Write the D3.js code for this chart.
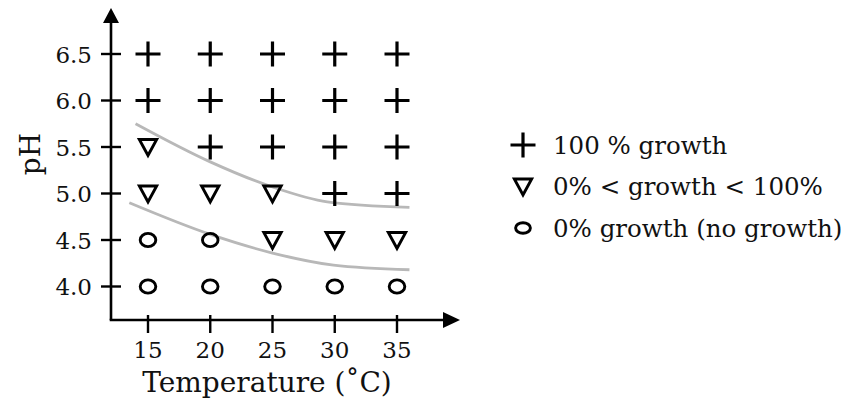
<!DOCTYPE html>
<html>
<head>
<meta charset="utf-8">
<script src="https://cdn.jsdelivr.net/npm/d3@7/dist/d3.min.js"></script>
<style>
  html, body { margin: 0; padding: 0; background: #fff; }
  svg { display: block; }
  text { font-family: "DejaVu Serif", "Liberation Serif", serif; fill: #111; }
</style>
</head>
<body>
<svg id="chart" width="850" height="401"></svg>
<script>
// Growth test grid: temperature (°C) by pH
const temperatures = [15, 20, 25, 30, 35];
const phLevels = [4.0, 4.5, 5.0, 5.5, 6.0, 6.5];
const tempTicks = ["15", "20", "25", "30", "35"];
const phTicks = ["4.0", "4.5", "5.0", "5.5", "6.0", "6.5"];

// growth outcome per pH row (same order as phLevels), one entry per temperature
// "full" = 100 % growth, "partial" = 0% < growth < 100%, "none" = no growth
const growthRows = [
  ["none", "none", "none", "none", "none"],
  ["none", "none", "partial", "partial", "partial"],
  ["partial", "partial", "partial", "full", "full"],
  ["partial", "full", "full", "full", "full"],
  ["full", "full", "full", "full", "full"],
  ["full", "full", "full", "full", "full"]
];

// boundary curves [temperature, pH]
const upperBoundary = [[14.0, 5.75], [20.0, 5.34], [25.0, 5.07], [29.4, 4.91], [36.0, 4.85]];
const lowerBoundary = [[13.5, 4.90], [20.0, 4.56], [25.0, 4.36], [29.9, 4.23], [36.0, 4.18]];

const legendItems = [
  { kind: "full", label: "100 % growth" },
  { kind: "partial", label: "0% < growth < 100%" },
  { kind: "none", label: "0% growth (no growth)" }
];

const svg = d3.select("#chart");
const ink = "#000";

const x = d3.scaleLinear().domain([15, 35]).range([148, 397]);
const y = d3.scaleLinear().domain([4.0, 6.5]).range([286.5, 54]);

const axisX0 = 111, axisY0 = 320;

// marker drawing
function drawMarker(g, kind, small) {
  if (kind === "full") {
    g.append("path")
      .attr("d", "M-12.5,0H12.5M0,-12.5V12.5")
      .attr("stroke", ink).attr("stroke-width", 3.2).attr("fill", "none");
  } else if (kind === "partial") {
    g.append("path")
      .attr("d", "M-8.6,-7.4L8.6,-7.4L0,8.4Z")
      .attr("stroke", ink).attr("stroke-width", 3)
      .attr("stroke-linejoin", "miter").attr("fill", "none");
  } else {
    g.append("ellipse")
      .attr("rx", small ? 7.4 : 7.8).attr("ry", small ? 5.3 : 6.6)
      .attr("stroke", ink).attr("stroke-width", 2.9).attr("fill", "none");
  }
}

// boundary curves (drawn beneath the markers)
const line = d3.line()
  .x(d => x(d[0]))
  .y(d => y(d[1]))
  .curve(d3.curveMonotoneX);

svg.selectAll("path.boundary")
  .data([upperBoundary, lowerBoundary])
  .join("path")
  .attr("class", "boundary")
  .attr("d", line)
  .attr("fill", "none")
  .attr("stroke", "#b8b8b8")
  .attr("stroke-width", 2.8);

// axes lines with arrowheads
svg.append("line")
  .attr("x1", axisX0).attr("y1", axisY0).attr("x2", axisX0).attr("y2", 20)
  .attr("stroke", ink).attr("stroke-width", 2.6);
svg.append("path")
  .attr("d", `M${axisX0},8L${axisX0 + 8},23L${axisX0 - 8},23Z`)
  .attr("fill", ink);
svg.append("line")
  .attr("x1", axisX0 - 1.3).attr("y1", axisY0).attr("x2", 446).attr("y2", axisY0)
  .attr("stroke", ink).attr("stroke-width", 2.6);
svg.append("path")
  .attr("d", `M460,${axisY0}L443,${axisY0 - 8}L443,${axisY0 + 8}Z`)
  .attr("fill", ink);

// y ticks and labels
const yt = svg.append("g");
phLevels.forEach((v, i) => {
  yt.append("line")
    .attr("x1", axisX0 - 10).attr("x2", axisX0 + 10)
    .attr("y1", y(v)).attr("y2", y(v))
    .attr("stroke", ink).attr("stroke-width", 2.4);
  yt.append("text")
    .attr("x", axisX0 - 19).attr("y", y(v)).attr("dy", "0.38em")
    .attr("text-anchor", "end")
    .attr("font-size", 23)
    .text(phTicks[i]);
});

// x ticks and labels
const xt = svg.append("g");
temperatures.forEach((t, i) => {
  xt.append("line")
    .attr("x1", x(t)).attr("x2", x(t))
    .attr("y1", axisY0 - 5).attr("y2", axisY0 + 13)
    .attr("stroke", ink).attr("stroke-width", 2.4);
  xt.append("text")
    .attr("x", x(t)).attr("y", 358)
    .attr("text-anchor", "middle")
    .attr("font-size", 23)
    .text(tempTicks[i]);
});

// axis titles
svg.append("text")
  .attr("x", 267).attr("y", 392)
  .attr("text-anchor", "middle")
  .attr("font-size", 28)
  .text("Temperature (˚C)");
svg.append("text")
  .attr("transform", "translate(40,154) rotate(-90)")
  .attr("text-anchor", "middle")
  .attr("font-size", 28)
  .text("pH");

// grid of outcomes
const cells = [];
phLevels.forEach((ph, r) => {
  temperatures.forEach((t, c) => cells.push({ t, ph, kind: growthRows[r][c] }));
});
svg.append("g").selectAll("g.cell")
  .data(cells)
  .join("g")
  .attr("class", "cell")
  .attr("transform", d => `translate(${x(d.t)},${y(d.ph)})`)
  .each(function (d) { drawMarker(d3.select(this), d.kind, false); });

// legend
const legendY = d3.scalePoint().domain(legendItems.map(d => d.kind)).range([145, 228]);
const lg = svg.append("g").selectAll("g.item")
  .data(legendItems)
  .join("g")
  .attr("class", "item")
  .attr("transform", d => `translate(523,${legendY(d.kind)})`);
lg.each(function (d) { drawMarker(d3.select(this), d.kind, true); });
lg.append("text")
  .attr("x", 30).attr("dy", "0.36em")
  .attr("font-size", 24.5)
  .text(d => d.label);
</script>
</body>
</html>
